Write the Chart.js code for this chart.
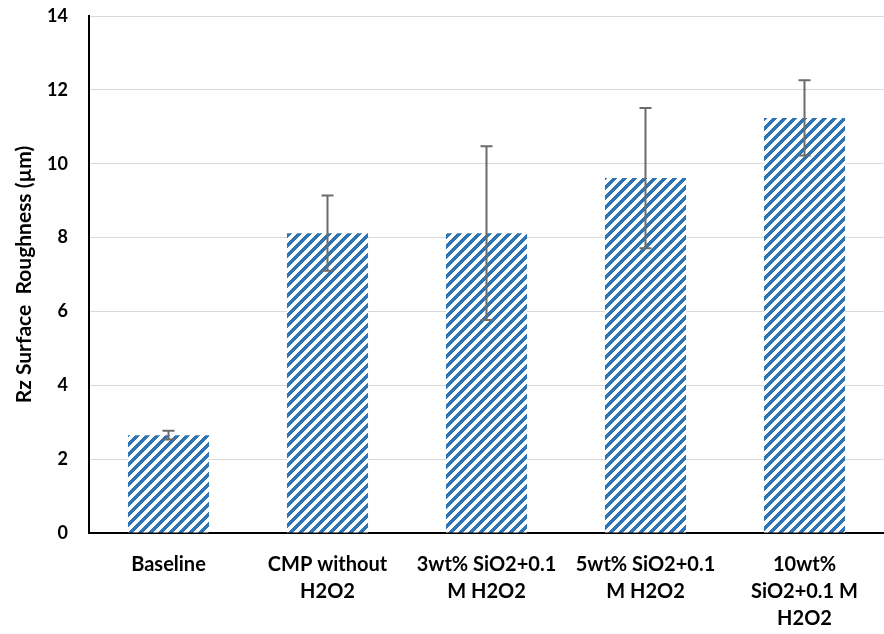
<!DOCTYPE html>
<html>
<head>
<meta charset="utf-8">
<script src="https://cdn.jsdelivr.net/npm/chart.js@4/dist/chart.umd.min.js"></script>
<style>
  html, body { margin: 0; padding: 0; background: #fff; }
  #wrap { width: 884px; height: 634px; }
</style>
</head>
<body>
<div id="wrap"><canvas id="c" width="884" height="634"></canvas></div>
<script>
const categories = [
    'Baseline',
    ['CMP without', 'H2O2'],
    ['3wt% SiO2+0.1', 'M H2O2'],
    ['5wt% SiO2+0.1', 'M H2O2'],
    ['10wt%', 'SiO2+0.1 M', 'H2O2']
];
const rzValues = [2.65, 8.12, 8.12, 9.61, 11.24];
const rzErrors = [0.12, 1.02, 2.35, 1.9, 1.02];
const yTicks = [0, 2, 4, 6, 8, 10, 12, 14];

// diagonal stripe fill, like the Excel pattern (pixel based, no seams)
function stripePattern() {
    const size = 10;
    const p = document.createElement('canvas');
    p.width = size; p.height = size;
    const g = p.getContext('2d');
    g.fillStyle = '#ffffff';
    g.fillRect(0, 0, size, size);
    g.fillStyle = '#2e75b6';
    for (let x = 0; x < size; x++) {
        for (let y = 0; y < size; y++) {
            if ((x + y) % size < 5) g.fillRect(x, y, 1, 1);
        }
    }
    return g.createPattern(p, 'repeat');
}

const ctx = document.getElementById('c').getContext('2d');

const errorBars = {
    id: 'errorBars',
    afterDatasetsDraw(chart) {
        const c = chart.ctx;
        const y = chart.scales.y;
        const meta = chart.getDatasetMeta(0);
        c.save();
        c.strokeStyle = '#6b6b6b';
        c.lineWidth = 2;
        meta.data.forEach((bar, i) => {
            const v = rzValues[i], e = rzErrors[i];
            const top = y.getPixelForValue(v + e);
            const bot = y.getPixelForValue(v - e);
            const x = bar.x;
            c.beginPath();
            c.moveTo(x, top); c.lineTo(x, bot);
            c.moveTo(x - 6, top); c.lineTo(x + 6, top);
            c.moveTo(x - 6, bot); c.lineTo(x + 6, bot);
            c.stroke();
        });
        c.restore();
    }
};

new Chart(ctx, {
    type: 'bar',
    data: {
        labels: categories,
        datasets: [{
            label: 'Rz',
            data: rzValues,
            backgroundColor: stripePattern(),
            borderWidth: 0,
            barPercentage: 0.51,
            categoryPercentage: 1.0
        }]
    },
    options: {
        responsive: false,
        animation: false,
        layout: { padding: { top: 0, right: 0, left: 12, bottom: 0 } },
        plugins: { legend: { display: false }, tooltip: { enabled: false } },
        scales: {
            x: {
                grid: { display: false, drawTicks: false },
                border: { color: '#000000', width: 2 },
                ticks: {
                    color: '#000000',
                    font: { family: 'Lato', weight: 'bold', size: 20, lineHeight: 1.35 },
                    padding: 18,
                    maxRotation: 0,
                    autoSkip: false
                },
                afterFit(scale) {
                    scale.height = 101;
                    scale.paddingTop = 0;
                }
            },
            y: {
                min: 0,
                max: 14,
                afterBuildTicks(scale) { scale.ticks = yTicks.map(v => ({ value: v })); },
                grid: { color: '#d9d9d9', lineWidth: 1, drawTicks: false },
                border: { color: '#000000', width: 2 },
                ticks: {
                    color: '#000000',
                    font: { family: 'Lato', weight: 'bold', size: 18 },
                    padding: 21
                },
                title: {
                    display: true,
                    text: 'Rz Surface  Roughness (µm)',
                    color: '#000000',
                    font: { family: 'Lato', weight: 'bold', size: 21 },
                    padding: { top: 0, bottom: 0 }
                },
                afterFit(scale) {
                    scale.width = 77;
                    scale.paddingTop = 16;
                }
            }
        }
    },
    plugins: [errorBars]
});
</script>
</body>
</html>
